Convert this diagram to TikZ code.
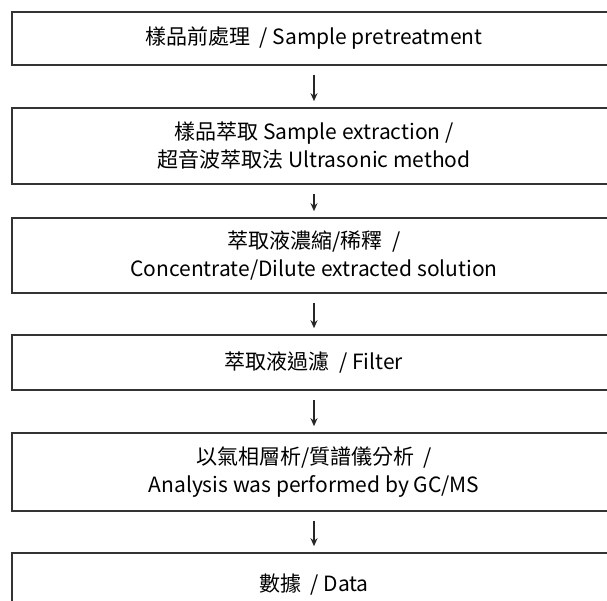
\documentclass[tikz,border=0pt]{standalone}
\usepackage{fontspec}
\setmainfont{Noto Sans CJK TC}
\usetikzlibrary{positioning,arrows.meta}
\tikzset {
    style box/.style={
        draw=black!80,
        line width=1.6pt,
        rectangle, % Set the shape as a rectangle
        minimum width=604pt,
        align=center,
        inner sep=0pt,
        font=\fontsize{21}{28}\selectfont,
    },
    style arrow/.style={
        draw=black!85,
        line width=1.5pt,
        -{Stealth[length=8pt,width=7pt]},
        shorten <=9pt,
        shorten >=6pt,
    },
}

\begin{document}
\begin{tikzpicture}[x=1pt, y=-1pt]
        \useasboundingbox (0,0) rectangle (607,601);

        \node[style box, minimum height=53pt] at (314, 38.5) (pretreat) {樣品前處理 \ / Sample pretreatment};
        \node[style box, minimum height=76pt] at (314, 146) (extract) {樣品萃取 Sample extraction /\\超音波萃取法 Ultrasonic method};
        \node[style box, minimum height=75pt] at (314, 255.5) (concentrate) {萃取液濃縮/稀釋 \ /\\Concentrate/Dilute extracted solution};
        \node[style box, minimum height=55pt] at (314, 362.5) (filter) {萃取液過濾 \ / Filter};
        \node[style box, minimum height=78pt] at (314, 472) (gcms) {以氣相層析/質譜儀分析 \ /\\Analysis was performed by GC/MS};
        \node[style box, minimum height=64pt] at (314, 585) (data) {數據 \ / Data};

        \draw[style arrow] (pretreat) -- (extract);
        \draw[style arrow] (extract) -- (concentrate);
        \draw[style arrow] (concentrate) -- (filter);
        \draw[style arrow] (filter) -- (gcms);
        \draw[style arrow] (gcms) -- (data);
    \end{tikzpicture}
\end{document}
